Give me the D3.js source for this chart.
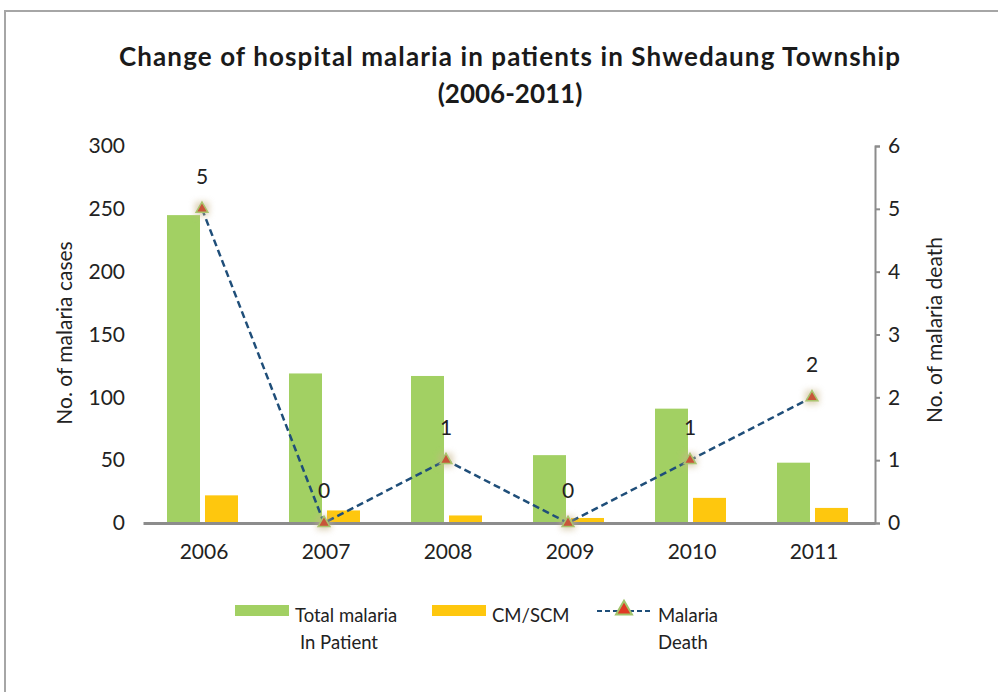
<!DOCTYPE html>
<html><head><meta charset="utf-8">
<script src="https://cdn.jsdelivr.net/npm/d3@7"></script>
<style>body{margin:0;background:#fff;} svg{display:block;font-family:Lato,"Open Sans",sans-serif;}</style>
</head><body><svg id="c" width="998" height="692"></svg>
<script>
const years = ["2006","2007","2008","2009","2010","2011"];
const totalInPatient = [245,119,117,54,91,48];
const cmScm = [22,10,6,4,20,12];
const deaths = [5,0,1,0,1,2];
const leftTicks = [0,50,100,150,200,250,300];
const rightTicks = [0,1,2,3,4,5,6];

const svg = d3.select("#c");
const m = {l:143, r:875, t:146, b:523};
const x = d3.scaleBand().domain(years).range([m.l,m.r]);
const yL = d3.scaleLinear().domain([0,300]).range([m.b,m.t]);
const yR = d3.scaleLinear().domain([0,6]).range([m.b,m.t]);

// frame
svg.append("path").attr("d","M5,692 L5,11 L998,11").attr("fill","none").attr("stroke","#a6a6a6").attr("stroke-width",2);

// title
svg.append("text").attr("x",119).attr("y",66).attr("textLength",781).attr("lengthAdjust","spacing").attr("font-size",26).attr("font-weight","bold").attr("fill","#1a1a1a").text("Change of hospital malaria in patients in Shwedaung Township");
svg.append("text").attr("x",510).attr("y",103).attr("text-anchor","middle").attr("font-size",26).attr("font-weight","bold").attr("fill","#1a1a1a").text("(2006-2011)");

// bars
const bw = 33;
svg.append("g").selectAll("rect").data(years).join("rect")
  .attr("x",d=>x(d)+x.bandwidth()/2-37).attr("width",bw)
  .attr("y",(d,i)=>yL(totalInPatient[i])).attr("height",(d,i)=>yL(0)-yL(totalInPatient[i]))
  .attr("fill","#a2d063");
svg.append("g").selectAll("rect").data(years).join("rect")
  .attr("x",d=>x(d)+x.bandwidth()/2+1).attr("width",bw)
  .attr("y",(d,i)=>yL(cmScm[i])).attr("height",(d,i)=>yL(0)-yL(cmScm[i]))
  .attr("fill","#fec70e");

// left axis (labels only)
const gl = svg.append("g").attr("transform",`translate(${m.l},0)`)
  .call(d3.axisLeft(yL).tickValues(leftTicks).tickSize(0).tickPadding(18));
gl.select(".domain").remove();
gl.selectAll("text").attr("font-size",21).attr("fill","#222").attr("font-family","Lato,sans-serif");

// right axis
const gr = svg.append("g").attr("transform",`translate(${m.r},0)`)
  .call(d3.axisRight(yR).tickValues(rightTicks).tickFormat(d3.format("d")).tickSize(5).tickSizeOuter(5).tickPadding(8));
gr.select(".domain").attr("stroke","#8c8c8c").attr("stroke-width",2);
gr.selectAll("line").attr("stroke","#8c8c8c").attr("stroke-width",2);
gr.selectAll("text").attr("font-size",21).attr("fill","#222").attr("font-family","Lato,sans-serif");

// bottom axis
const gb = svg.append("g").attr("transform",`translate(0,${m.b})`)
  .call(d3.axisBottom(x).tickSize(0).tickPadding(21));
gb.select(".domain").attr("stroke","#8c8c8c").attr("stroke-width",3);
gb.selectAll("text").attr("font-size",21).attr("fill","#222").attr("font-family","Lato,sans-serif");

// axis titles
svg.append("text").attr("transform","translate(72,333) rotate(-90)").attr("text-anchor","middle").attr("font-size",21).attr("fill","#222").text("No. of malaria cases");
svg.append("text").attr("transform","translate(942,330) rotate(-90)").attr("text-anchor","middle").attr("font-size",21).attr("fill","#222").text("No. of malaria death");

// glow filter
const defs = svg.append("defs");
const f = defs.append("filter").attr("id","glow").attr("x","-80%").attr("y","-80%").attr("width","260%").attr("height","260%");
f.append("feGaussianBlur").attr("stdDeviation",3);

// line
const cx = d => x(d)+x.bandwidth()/2-2;
svg.append("path").datum(years)
  .attr("d",d3.line().x(cx).y((d,i)=>yR(deaths[i])))
  .attr("fill","none").attr("stroke","#1f4e79").attr("stroke-width",2.5).attr("stroke-dasharray","7,4");

const tri = d3.symbol().type(d3.symbolTriangle).size(60);
const mk = svg.append("g").selectAll("g").data(years).join("g")
  .attr("transform",(d,i)=>`translate(${cx(d)},${yR(deaths[i])})`);
mk.append("rect").attr("x",-7).attr("y",-7).attr("width",14).attr("height",14).attr("fill","#c8b58a").attr("opacity",0.6).attr("filter","url(#glow)");
mk.append("path").attr("d",tri).attr("fill","#c8553a").attr("stroke","#a9c46e").attr("stroke-width",1.5);

svg.append("g").selectAll("text").data(years).join("text")
  .attr("x",cx).attr("y",(d,i)=>yR(deaths[i])-25).attr("text-anchor","middle")
  .attr("font-size",21).attr("fill","#222").text((d,i)=>deaths[i]);

// legend
const lg = svg.append("g");
lg.append("rect").attr("x",235).attr("y",605).attr("width",54).attr("height",11).attr("fill","#a2d063");
lg.append("text").attr("x",295).attr("y",622).attr("font-size",18.5).attr("fill","#222").text("Total malaria");
lg.append("text").attr("x",300).attr("y",649).attr("font-size",18.5).attr("fill","#222").text("In Patient");
lg.append("rect").attr("x",432).attr("y",605).attr("width",54).attr("height",11).attr("fill","#fec70e");
lg.append("text").attr("x",492).attr("y",622).attr("font-size",18.5).attr("fill","#222").text("CM/SCM");
lg.append("line").attr("x1",597).attr("x2",652).attr("y1",611).attr("y2",611).attr("stroke","#1f4e79").attr("stroke-width",2).attr("stroke-dasharray","5,3");
lg.append("path").attr("transform","translate(624,610)").attr("d",d3.symbol().type(d3.symbolTriangle).size(110)).attr("fill","#e03a24").attr("stroke","#a2c46a").attr("stroke-width",2);
lg.append("text").attr("x",658).attr("y",622).attr("font-size",18.5).attr("fill","#222").text("Malaria");
lg.append("text").attr("x",658).attr("y",649).attr("font-size",18.5).attr("fill","#222").text("Death");
</script></body></html>
